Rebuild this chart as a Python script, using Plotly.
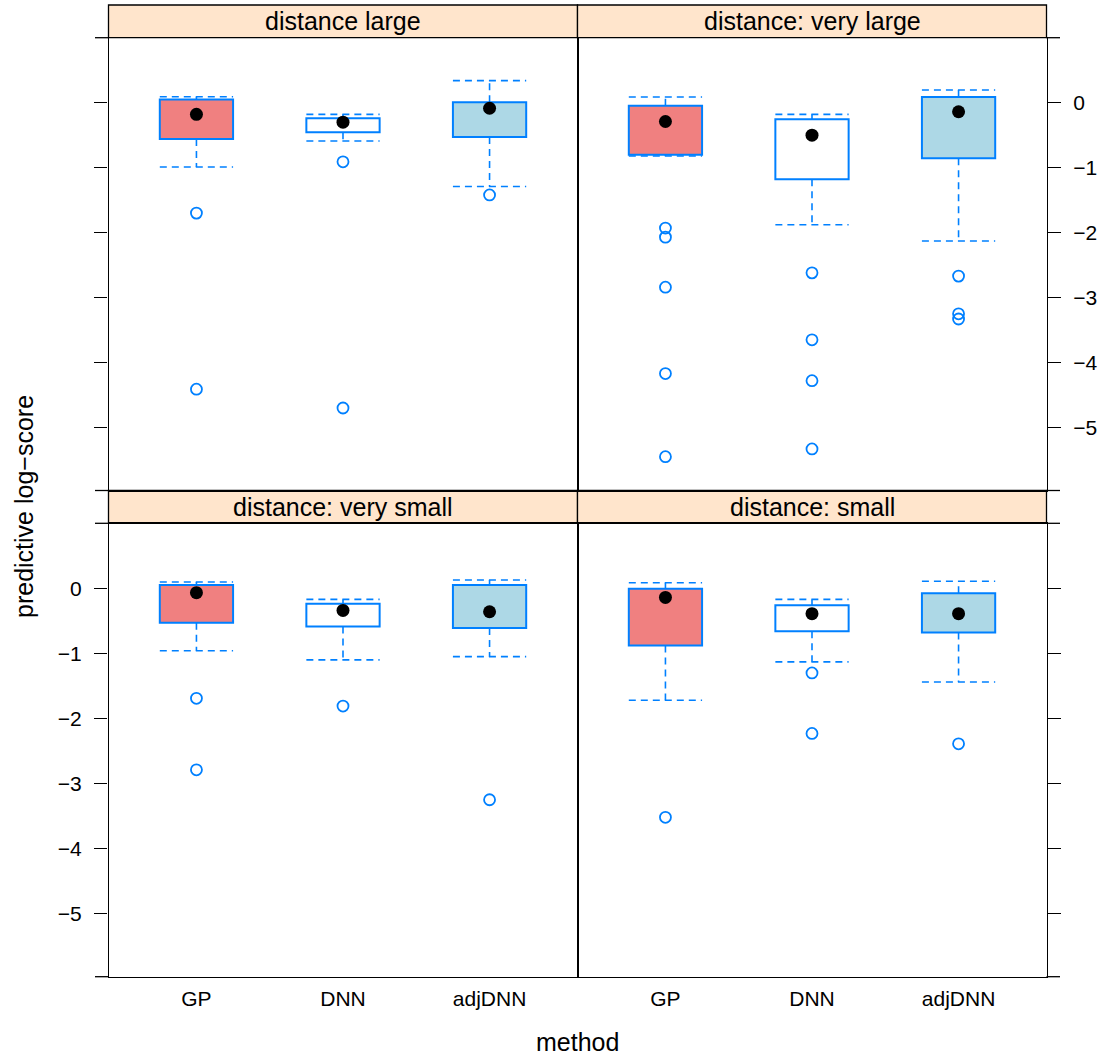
import plotly.graph_objects as go

# ---------------- data ----------------
methods = ["GP", "DNN", "adjDNN"]
panel_titles = ["distance large", "distance: very large",
                "distance: very small", "distance: small"]

# each row: one panel; each entry: GP, DNN, adjDNN
lower_whisker = [[-0.99, -0.59, -1.29],
                 [-0.82, -1.88, -2.13],
                 [-0.96, -1.10, -1.05],
                 [-1.72, -1.13, -1.44]]
q1 = [[-0.56, -0.455, -0.53],
      [-0.80, -1.18, -0.855],
      [-0.53, -0.585, -0.61],
      [-0.88, -0.66, -0.68]]
median = [[-0.18, -0.30, -0.086],
          [-0.29, -0.50, -0.14],
          [-0.066, -0.34, -0.36],
          [-0.14, -0.39, -0.39]]
q3 = [[0.05, -0.24, 0.006],
      [-0.046, -0.255, 0.088],
      [0.05, -0.235, 0.05],
      [-0.005, -0.26, -0.077]]
upper_whisker = [[0.09, -0.18, 0.34],
                 [0.088, -0.18, 0.195],
                 [0.097, -0.17, 0.128],
                 [0.087, -0.17, 0.11]]
outliers_gp = [[-1.70, -4.41],
               [-1.93, -2.07, -2.84, -4.17, -5.45],
               [-1.69, -2.79],
               [-3.52]]
outliers_dnn = [[-0.91, -4.70],
                [-2.62, -3.65, -4.28, -5.33],
                [-1.81],
                [-1.30, -2.23]]
outliers_adjdnn = [[-1.42],
                   [-2.67, -3.25, -3.33],
                   [-3.25],
                   [-2.39]]

y_ticks = [0, -1, -2, -3, -4, -5]
y_tick_text = ["0", "\u22121", "\u22122", "\u22123", "\u22124", "\u22125"]

# ---------------- styling ----------------
W, H = 1104, 1057
FONT = "Liberation Sans, Arial, Helvetica, sans-serif"
BLUE = "#0080FF"
fill_colors = ["#F08080", "#FFFFFF", "#ADD8E6"]
STRIP = "#FFE5CC"
BOX_HALF = 0.25
positions = [1, 2, 3]


def fx(p):
    return p / W


def fy(p):
    return 1 - p / H


col_px = [(108.5, 577.5), (577.5, 1046.5)]
row_px = [(37.7, 490.5), (523.3, 976.7)]
strip_px = [(5.0, 37.7), (490.5, 523.3)]
# panel index -> (row, col)
panel_pos = [(0, 0), (0, 1), (1, 0), (1, 1)]

fig = go.Figure()

for p in range(4):
    ax = "" if p == 0 else str(p + 1)
    xa, ya = "x" + ax, "y" + ax
    # boxes
    fig.add_trace(go.Bar(
        x=positions,
        base=q1[p],
        y=[b - a for a, b in zip(q1[p], q3[p])],
        width=2 * BOX_HALF,
        marker=dict(color=fill_colors, line=dict(color=BLUE, width=2)),
        xaxis=xa, yaxis=ya, showlegend=False, hoverinfo="skip"))
    # whiskers
    wx, wy = [], []
    for i, xp in enumerate(positions):
        wx += [xp, xp, None, xp, xp, None,
               xp - BOX_HALF, xp + BOX_HALF, None,
               xp - BOX_HALF, xp + BOX_HALF, None]
        wy += [q3[p][i], upper_whisker[p][i], None,
               q1[p][i], lower_whisker[p][i], None,
               upper_whisker[p][i], upper_whisker[p][i], None,
               lower_whisker[p][i], lower_whisker[p][i], None]
    fig.add_trace(go.Scatter(
        x=wx, y=wy, mode="lines",
        line=dict(color=BLUE, width=1.6, dash="7px,5px"),
        xaxis=xa, yaxis=ya, showlegend=False, hoverinfo="skip"))
    # outliers
    ox, oy = [], []
    for xp, outs in zip(positions, [outliers_gp[p], outliers_dnn[p], outliers_adjdnn[p]]):
        ox += [xp] * len(outs)
        oy += outs
    fig.add_trace(go.Scatter(
        x=ox, y=oy, mode="markers",
        marker=dict(symbol="circle-open", size=11, color=BLUE,
                    line=dict(color=BLUE, width=1.8)),
        xaxis=xa, yaxis=ya, showlegend=False))
    # medians
    fig.add_trace(go.Scatter(
        x=positions, y=median[p], mode="markers",
        marker=dict(symbol="circle", size=13, color="black"),
        xaxis=xa, yaxis=ya, showlegend=False))

layout = dict(
    width=W, height=H,
    margin=dict(l=0, r=0, t=0, b=0),
    paper_bgcolor="white", plot_bgcolor="white",
    font=dict(family=FONT, color="black"),
    showlegend=False,
)

shapes = []
annotations = []
TICK = 13.5
for p in range(4):
    r, c = panel_pos[p]
    ax = "" if p == 0 else str(p + 1)
    xkey = "xaxis" + ax
    ykey = "yaxis" + ax
    bottom = (r == 1)
    layout[xkey] = dict(
        domain=[fx(col_px[c][0]), fx(col_px[c][1])],
        anchor="y" + ax, range=[0.4, 3.6],
        showgrid=False, zeroline=False,
        showline=True, mirror=True, linecolor="black", linewidth=1.3,
        tickvals=positions, ticktext=methods, ticks="",
        showticklabels=bottom, ticklabelstandoff=3,
        tickfont=dict(size=21, family=FONT, color="black"),
    )
    left_side = (c == 0)
    show_labels = (p == 1 or p == 2)
    layout[ykey] = dict(
        domain=[fy(row_px[r][1]), fy(row_px[r][0])],
        anchor="x" + ax, range=[-5.97, 1.0],
        side="left" if left_side else "right",
        showgrid=False, zeroline=False,
        showline=True, mirror=True, linecolor="black", linewidth=1.3,
        tickvals=y_ticks, ticktext=y_tick_text,
        ticks="outside", ticklen=TICK, tickwidth=1.3, tickcolor="black",
        showticklabels=show_labels, ticklabelstandoff=8,
        tickfont=dict(size=21, family=FONT, color="black"),
    )
    # tick-length extensions at panel borders
    if left_side:
        x0, x1 = fx(col_px[c][0] - TICK), fx(col_px[c][0])
    else:
        x0, x1 = fx(col_px[c][1]), fx(col_px[c][1] + TICK)
    for yy in row_px[r]:
        shapes.append(dict(type="line", xref="paper", yref="paper",
                           x0=x0, x1=x1, y0=fy(yy), y1=fy(yy),
                           line=dict(color="black", width=1.3)))
    # strip
    shapes.append(dict(type="rect", xref="paper", yref="paper",
                       x0=fx(col_px[c][0]), x1=fx(col_px[c][1]),
                       y0=fy(strip_px[r][1]), y1=fy(strip_px[r][0]),
                       fillcolor=STRIP, line=dict(color="black", width=1.3),
                       layer="below"))
    annotations.append(dict(
        text=panel_titles[p], xref="paper", yref="paper",
        x=fx((col_px[c][0] + col_px[c][1]) / 2),
        y=fy((strip_px[r][0] + strip_px[r][1]) / 2),
        xanchor="center", yanchor="middle", showarrow=False,
        font=dict(size=25, family=FONT, color="black")))

annotations.append(dict(
    text="method", xref="paper", yref="paper",
    x=fx(577.5), y=fy(1042), xanchor="center", yanchor="middle",
    showarrow=False, font=dict(size=25, family=FONT, color="black")))
annotations.append(dict(
    text="predictive log\u2212score", xref="paper", yref="paper",
    x=fx(24), y=fy(507), xanchor="center", yanchor="middle", textangle=-90,
    showarrow=False, font=dict(size=25, family=FONT, color="black")))

layout["shapes"] = shapes
layout["annotations"] = annotations
fig.update_layout(**layout)

fig.write_html(
    "out.html",
    config={"displayModeBar": False},
    post_script="document.body.style.margin='0';document.body.style.overflow='hidden';",
)
